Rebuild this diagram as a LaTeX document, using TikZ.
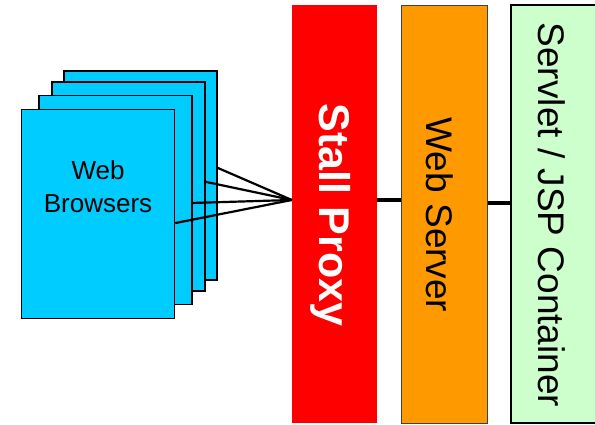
\documentclass[tikz,border=0pt]{standalone}
\usepackage{fontspec}
\setmainfont{Liberation Sans}
\usetikzlibrary{calc}
\definecolor{pagecyan}{HTML}{00CCFF}
\definecolor{proxyred}{HTML}{FF0000}
\definecolor{serverorange}{HTML}{FF9900}
\definecolor{containergreen}{HTML}{CCFFCC}
\tikzset{
  page/.style={draw=black, line width=1.6pt, fill=pagecyan,
    minimum width=153pt, minimum height=209pt, inner sep=0pt},
  tier/.style={minimum height=418pt, inner sep=0pt},
  fanline/.style={draw=black, line width=2.2pt},
  link/.style={draw=black, line width=4pt},
}
\begin{document}
\begin{tikzpicture}[x=1pt, y=-1pt]
  \useasboundingbox (0,0) rectangle (595,424);
  \clip (0,0) rectangle (595,424);

  % stack of browser windows, back to front
  \node[page] (p4) at (140.5,175.5) {};
  \node[page] (p3) at (128.5,186.5) {};
  \node[page] (p2) at (115.5,200) {};
  \node[page] (p1) at (98,214) {};
  \node[align=center, font=\fontsize{26}{33}\selectfont] (lbl) at (98,187) {Web\\Browsers};

  % server-side tiers
  \node[tier, fill=proxyred, minimum width=85pt] (proxy) at (334.5,214) {};
  \node[tier, fill=serverorange, draw=black!75, line width=1pt, minimum width=86pt] (web) at (444,214) {};
  \node[tier, fill=containergreen, draw=black, line width=1.5pt, minimum width=100pt] (cont) at (561,214) {};

  \node[rotate=-90, text=white, font=\bfseries\fontsize{43}{43}\selectfont] (proxytxt) at (331,215) {Stall Proxy};
  \node[rotate=-90, font=\fontsize{37}{37}\selectfont] (webtxt) at (440,215) {Web Server};
  \node[rotate=-90, font=\fontsize{37}{37}\selectfont] (conttxt) at (552,215) {Servlet / JSP Container};

  % fan of browser connections into the proxy
  \coordinate (hub) at ($(proxy.north west)!0.4665!(proxy.south west)$);
  \draw[fanline] ($(p4.north east)!0.464!(p4.south east)$) -- (hub);
  \draw[fanline] ($(p3.north east)!0.478!(p3.south east)$) -- (hub);
  \draw[fanline] ($(p2.north east)!0.514!(p2.south east)$) -- (hub);
  \draw[fanline] ($(p1.north east)!0.543!(p1.south east)$) -- (hub);

  % links between tiers
  \draw[link] (hub -| proxy.east) -- (hub -| web.west);
  \coordinate (hub2) at ($(web.north east)!0.474!(web.south east)$);
  \draw[link] (hub2) -- (hub2 -| cont.west);
\end{tikzpicture}
\end{document}
